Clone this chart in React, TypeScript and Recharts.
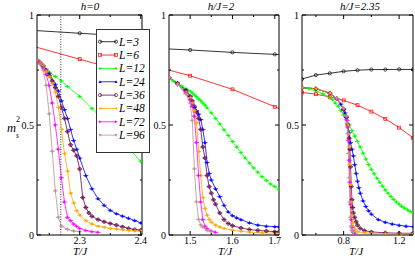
import React from 'react';
import { LineChart, Line, XAxis, YAxis, ReferenceLine } from 'recharts';

// ---------- legend / style categories ----------
const seriesNames = ['L=3', 'L=6', 'L=12', 'L=24', 'L=36', 'L=48', 'L=72', 'L=96'];
const seriesColors = ['#000000', '#ff0000', '#00ff00', '#0000ff', '#670748', '#ffa500', '#ff00ff', '#bc8f8f'];
const seriesShapes = ['circle', 'square', 'diamond', 'up', 'circle', 'left', 'right', 'down'];

const panelTitles = ['h=0', 'h/J=2', 'h/J=2.35'];
const xAxisTitle = 'T/J';

// ---------- panel 1 : h = 0 ----------
const h0_L3: [number, number][] = [[2.2, 0.934], [2.3, 0.917], [2.4, 0.9], [2.5, 0.883]];
const h0_L6: [number, number][] = [[2.2, 0.876], [2.3, 0.799], [2.4, 0.722], [2.5, 0.645]];
const h0_L12: [number, number][] = [[2.23, 0.795], [2.24, 0.765], [2.25, 0.74], [2.26, 0.72], [2.27, 0.7], [2.28, 0.675], [2.3, 0.63], [2.32, 0.575], [2.34, 0.52], [2.36, 0.46], [2.38, 0.395], [2.4, 0.335], [2.42, 0.28]];
const h0_L24: [number, number][] = [[2.23, 0.795], [2.24, 0.77], [2.25, 0.735], [2.26, 0.685], [2.265, 0.655], [2.27, 0.61], [2.275, 0.57], [2.28, 0.53], [2.285, 0.48], [2.29, 0.43], [2.295, 0.39], [2.3, 0.35], [2.31, 0.27], [2.32, 0.21], [2.33, 0.165], [2.34, 0.135], [2.35, 0.112], [2.36, 0.097], [2.37, 0.086], [2.38, 0.076], [2.39, 0.066], [2.4, 0.055], [2.41, 0.05]];
const h0_L36: [number, number][] = [[2.23, 0.795], [2.235, 0.785], [2.24, 0.77], [2.245, 0.75], [2.25, 0.725], [2.255, 0.7], [2.26, 0.67], [2.265, 0.63], [2.27, 0.58], [2.275, 0.53], [2.28, 0.47], [2.285, 0.41], [2.29, 0.385], [2.295, 0.36], [2.3, 0.3], [2.305, 0.17], [2.31, 0.125], [2.315, 0.1], [2.32, 0.085], [2.33, 0.07], [2.34, 0.06], [2.35, 0.052], [2.36, 0.045], [2.37, 0.037], [2.38, 0.03], [2.39, 0.025], [2.4, 0.022], [2.41, 0.02]];
const h0_L48: [number, number][] = [[2.23, 0.795], [2.235, 0.785], [2.24, 0.77], [2.245, 0.745], [2.25, 0.72], [2.255, 0.69], [2.26, 0.65], [2.265, 0.58], [2.27, 0.48], [2.275, 0.37], [2.28, 0.29], [2.285, 0.19], [2.29, 0.145], [2.295, 0.11], [2.3, 0.09], [2.31, 0.065], [2.32, 0.05], [2.33, 0.04], [2.34, 0.035], [2.35, 0.03], [2.36, 0.027], [2.37, 0.024], [2.38, 0.021], [2.39, 0.019], [2.4, 0.017], [2.41, 0.016]];
const h0_L72: [number, number][] = [[2.23, 0.795], [2.235, 0.78], [2.24, 0.76], [2.245, 0.73], [2.25, 0.68], [2.255, 0.6], [2.26, 0.5], [2.265, 0.39], [2.27, 0.26], [2.275, 0.15], [2.28, 0.08], [2.285, 0.065], [2.29, 0.05], [2.295, 0.04], [2.3, 0.03], [2.31, 0.02], [2.32, 0.015], [2.33, 0.012]];
const h0_L96: [number, number][] = [[2.23, 0.795], [2.235, 0.775], [2.24, 0.75], [2.245, 0.68], [2.25, 0.55], [2.255, 0.38], [2.26, 0.2], [2.265, 0.08], [2.27, 0.04], [2.28, 0.025], [2.29, 0.018], [2.3, 0.015]];

// ---------- panel 2 : h/J = 2 ----------
const h2_L3: [number, number][] = [[1.4, 0.85], [1.5, 0.841], [1.6, 0.83], [1.7, 0.821], [1.8, 0.81]];
const h2_L6: [number, number][] = [[1.4, 0.775], [1.5, 0.724], [1.6, 0.662], [1.7, 0.583], [1.8, 0.5]];
const h2_L12: [number, number][] = [[1.45, 0.715], [1.46, 0.7], [1.47, 0.69], [1.48, 0.677], [1.49, 0.665], [1.5, 0.653], [1.505, 0.645], [1.51, 0.636], [1.515, 0.628], [1.52, 0.618], [1.525, 0.61], [1.53, 0.6], [1.535, 0.59], [1.54, 0.578], [1.55, 0.555], [1.56, 0.53], [1.57, 0.505], [1.58, 0.478], [1.59, 0.452], [1.6, 0.425], [1.61, 0.4], [1.62, 0.375], [1.63, 0.35], [1.64, 0.327], [1.65, 0.305], [1.66, 0.285], [1.67, 0.265], [1.68, 0.248], [1.69, 0.232], [1.7, 0.22], [1.71, 0.205]];
const h2_L24: [number, number][] = [[1.45, 0.715], [1.47, 0.69], [1.49, 0.66], [1.5, 0.63], [1.505, 0.6], [1.51, 0.58], [1.515, 0.565], [1.52, 0.55], [1.525, 0.525], [1.53, 0.48], [1.535, 0.42], [1.54, 0.33], [1.545, 0.28], [1.55, 0.25], [1.56, 0.21], [1.57, 0.175], [1.58, 0.135], [1.59, 0.105], [1.6, 0.088], [1.61, 0.078], [1.62, 0.07], [1.64, 0.055], [1.66, 0.045], [1.68, 0.04], [1.7, 0.038], [1.71, 0.037]];
const h2_L36: [number, number][] = [[1.45, 0.715], [1.47, 0.69], [1.49, 0.655], [1.5, 0.63], [1.505, 0.61], [1.51, 0.585], [1.515, 0.56], [1.52, 0.53], [1.525, 0.48], [1.53, 0.4], [1.535, 0.35], [1.54, 0.27], [1.545, 0.22], [1.55, 0.19], [1.555, 0.16], [1.56, 0.14], [1.57, 0.1], [1.58, 0.07], [1.59, 0.052], [1.6, 0.042], [1.62, 0.032], [1.64, 0.025], [1.66, 0.021], [1.68, 0.018], [1.7, 0.015], [1.71, 0.014]];
const h2_L48: [number, number][] = [[1.45, 0.715], [1.47, 0.685], [1.49, 0.65], [1.5, 0.625], [1.505, 0.6], [1.51, 0.565], [1.515, 0.51], [1.52, 0.38], [1.525, 0.27], [1.53, 0.17], [1.535, 0.12], [1.54, 0.09], [1.545, 0.07], [1.55, 0.058], [1.56, 0.045], [1.57, 0.036], [1.58, 0.03], [1.6, 0.022], [1.62, 0.017], [1.64, 0.013], [1.67, 0.01], [1.71, 0.008]];
const h2_L72: [number, number][] = [[1.45, 0.715], [1.47, 0.685], [1.49, 0.645], [1.5, 0.615], [1.505, 0.585], [1.51, 0.54], [1.515, 0.42], [1.52, 0.27], [1.525, 0.15], [1.53, 0.07], [1.535, 0.04], [1.54, 0.03], [1.55, 0.018], [1.56, 0.012]];
const h2_L96: [number, number][] = [[1.45, 0.715], [1.47, 0.685], [1.49, 0.64], [1.5, 0.6], [1.505, 0.52], [1.51, 0.3], [1.515, 0.15], [1.52, 0.07], [1.525, 0.045], [1.53, 0.035], [1.54, 0.02], [1.55, 0.015]];

// ---------- panel 3 : h/J = 2.35 ----------
const h235_L3: [number, number][] = [[0.5, 0.709], [0.6, 0.727], [0.7, 0.735], [0.8, 0.744], [0.9, 0.749], [1.0, 0.752], [1.1, 0.752], [1.2, 0.753], [1.3, 0.752]];
const h235_L6: [number, number][] = [[0.5, 0.648], [0.6, 0.64], [0.7, 0.628], [0.8, 0.612], [0.9, 0.59], [1.0, 0.561], [1.1, 0.528], [1.2, 0.488], [1.3, 0.442]];
const h235_L12: [number, number][] = [[0.5, 0.67], [0.55, 0.665], [0.6, 0.655], [0.65, 0.642], [0.7, 0.625], [0.72, 0.615], [0.74, 0.6], [0.76, 0.585], [0.78, 0.565], [0.8, 0.545], [0.82, 0.525], [0.84, 0.5], [0.86, 0.475], [0.88, 0.45], [0.9, 0.425], [0.92, 0.4], [0.94, 0.372], [0.96, 0.345], [0.98, 0.32], [1.0, 0.298], [1.02, 0.278], [1.04, 0.258], [1.06, 0.24], [1.08, 0.222], [1.1, 0.205], [1.12, 0.19], [1.14, 0.175], [1.16, 0.162], [1.18, 0.15], [1.2, 0.14], [1.22, 0.13], [1.24, 0.122], [1.26, 0.114], [1.28, 0.107], [1.3, 0.1]];
const h235_L24: [number, number][] = [[0.5, 0.67], [0.6, 0.665], [0.7, 0.645], [0.75, 0.62], [0.78, 0.595], [0.8, 0.57], [0.81, 0.555], [0.82, 0.535], [0.83, 0.505], [0.84, 0.465], [0.85, 0.42], [0.86, 0.39], [0.87, 0.36], [0.88, 0.32], [0.89, 0.28], [0.9, 0.245], [0.91, 0.215], [0.92, 0.19], [0.94, 0.155], [0.96, 0.13], [0.98, 0.11], [1.0, 0.095], [1.05, 0.07], [1.1, 0.058], [1.15, 0.05], [1.2, 0.044], [1.25, 0.04], [1.3, 0.038]];
const h235_L36: [number, number][] = [[0.5, 0.67], [0.6, 0.665], [0.7, 0.645], [0.75, 0.62], [0.8, 0.57], [0.82, 0.535], [0.83, 0.5], [0.84, 0.44], [0.845, 0.39], [0.85, 0.31], [0.855, 0.22], [0.86, 0.16], [0.865, 0.125], [0.87, 0.1], [0.88, 0.08], [0.89, 0.06], [0.9, 0.045], [0.92, 0.03], [0.95, 0.02], [1.0, 0.014], [1.1, 0.01], [1.2, 0.008], [1.3, 0.008]];
const h235_L48: [number, number][] = [[0.5, 0.67], [0.6, 0.665], [0.7, 0.645], [0.75, 0.62], [0.8, 0.575], [0.82, 0.54], [0.83, 0.5], [0.835, 0.46], [0.84, 0.4], [0.845, 0.32], [0.85, 0.23], [0.855, 0.15], [0.86, 0.09], [0.865, 0.055], [0.87, 0.038], [0.88, 0.025], [0.9, 0.015], [0.95, 0.01], [1.0, 0.008], [1.1, 0.006], [1.2, 0.005], [1.3, 0.004]];
const h235_L72: [number, number][] = [[0.75, 0.62], [0.8, 0.575], [0.82, 0.54], [0.825, 0.52], [0.83, 0.49], [0.835, 0.43], [0.84, 0.34], [0.845, 0.24], [0.85, 0.14], [0.855, 0.07], [0.86, 0.035], [0.865, 0.02], [0.87, 0.012], [0.88, 0.008]];
const h235_L96: [number, number][] = [[0.75, 0.62], [0.8, 0.575], [0.82, 0.54], [0.825, 0.51], [0.83, 0.46], [0.835, 0.37], [0.84, 0.26], [0.845, 0.15], [0.85, 0.08], [0.855, 0.04], [0.86, 0.022], [0.87, 0.012]];

// ---------- axis ticks ----------
const p1Domain: [number, number] = [2.23, 2.402];
const p1XMajor = [2.3, 2.4];
const p1XMinor = [2.25, 2.35];
const p1Critical = 2.269;
const p2Domain: [number, number] = [1.45, 1.71];
const p2XMajor = [1.5, 1.6, 1.7];
const p2XMinor = [1.55, 1.65];
const p3Domain: [number, number] = [0.5, 1.3];
const p3XMajor = [0.8, 1.2];
const p3XMinor = [0.6, 1.0];
const yMajor = [0, 0.5, 1];
const yMinor = [0.25, 0.75];

const SERIF = '"Liberation Serif", "DejaVu Serif", serif';

function isIn(v: number, arr: number[]) {
  return arr.some((a) => Math.abs(a - v) < 1e-9);
}

function markerShape(shape: string, color: string, cx: number, cy: number, withCap: boolean, key?: any) {
  const s = 1.5;
  let m: any;
  switch (shape) {
    case 'circle':
      m = <circle cx={cx} cy={cy} r={1.6} fill="none" stroke={color} strokeWidth={0.7} />;
      break;
    case 'square':
      m = <rect x={cx - 1.5} y={cy - 1.5} width={3} height={3} fill="none" stroke={color} strokeWidth={0.7} />;
      break;
    case 'diamond':
      m = <polygon points={`${cx},${cy - s} ${cx + s},${cy} ${cx},${cy + s} ${cx - s},${cy}`} fill={color} stroke="none" />;
      break;
    case 'up':
      m = <polygon points={`${cx},${cy - s} ${cx + s},${cy + s * 0.8} ${cx - s},${cy + s * 0.8}`} fill={color} stroke="none" />;
      break;
    case 'down':
      m = <polygon points={`${cx},${cy + s} ${cx + s},${cy - s * 0.8} ${cx - s},${cy - s * 0.8}`} fill={color} stroke="none" />;
      break;
    case 'left':
      m = <polygon points={`${cx - s},${cy} ${cx + s * 0.8},${cy - s} ${cx + s * 0.8},${cy + s}`} fill={color} stroke="none" />;
      break;
    default:
      m = <polygon points={`${cx + s},${cy} ${cx - s * 0.8},${cy - s} ${cx - s * 0.8},${cy + s}`} fill={color} stroke="none" />;
  }
  return (
    <g key={key}>
      {withCap && <line x1={cx - 2.5} x2={cx + 2.5} y1={cy} y2={cy} stroke={color} strokeWidth={0.8} />}
      {withCap && <line x1={cx} x2={cx} y1={cy - 2} y2={cy + 2} stroke={color} strokeWidth={0.6} />}
      {m}
    </g>
  );
}

function makeDot(i: number) {
  return (p: any) => {
    const { cx, cy, index } = p;
    if (cx == null || cy == null || isNaN(cx) || isNaN(cy)) return <g key={`d${index}`} />;
    return markerShape(seriesShapes[i], seriesColors[i], cx, cy, i >= 2, `d${index}`);
  };
}

function makeTick(orient: string, majors: number[], labels: boolean) {
  return (p: any) => {
    const { x, y, payload } = p;
    const v = payload.value;
    const major = isIn(v, majors);
    const len = major ? 4 : 2;
    const txt = String(v);
    if (orient === 'bottom') {
      return (
        <g>
          <line x1={x} x2={x} y1={y} y2={y - len} stroke="#000" strokeWidth={1} />
          {labels && major && (
            <text x={x} y={y + 8.5} textAnchor="middle" fontFamily={SERIF} fontSize={10} fill="#000">{txt}</text>
          )}
        </g>
      );
    }
    if (orient === 'top') {
      return <line x1={x} x2={x} y1={y} y2={y + len} stroke="#000" strokeWidth={1} />;
    }
    if (orient === 'left') {
      return (
        <g>
          <line x1={x} x2={x + len} y1={y} y2={y} stroke="#000" strokeWidth={1} />
          {labels && major && (
            <text x={x - 3} y={y + 3.5} textAnchor="end" fontFamily={SERIF} fontSize={10} fill="#000">{txt}</text>
          )}
        </g>
      );
    }
    return <line x1={x} x2={x - len} y1={y} y2={y} stroke="#000" strokeWidth={1} />;
  };
}

type PanelProps = {
  left: number;
  plotW: number;
  domain: [number, number];
  xMajor: number[];
  xMinor: number[];
  series: [number, number][][];
  refX?: number;
};

function Panel({ left, plotW, domain, xMajor, xMinor, series, refX }: PanelProps) {
  const width = 30 + plotW + 1;
  const xTicks = [...xMajor, ...xMinor].sort((a, b) => a - b);
  const yTicks = [...yMajor, ...yMinor].sort((a, b) => a - b);
  const axisLine = { stroke: '#000', strokeWidth: 1 };
  return (
    <div style={{ position: 'absolute', left, top: 0 }}>
      <LineChart width={width} height={260} margin={{ top: 14, right: 0, bottom: 0, left: 0 }}>
        <XAxis xAxisId="b" type="number" dataKey="t" domain={domain} allowDataOverflow ticks={xTicks} interval={0}
          orientation="bottom" height={25} tickLine={false} tickSize={0} tickMargin={0} axisLine={axisLine}
          tick={makeTick('bottom', xMajor, true)} />
        <XAxis xAxisId="t" type="number" dataKey="t" domain={domain} allowDataOverflow ticks={xTicks} interval={0}
          orientation="top" height={1} tickLine={false} tickSize={0} tickMargin={0} axisLine={axisLine}
          tick={makeTick('top', xMajor, false)} />
        <YAxis yAxisId="l" type="number" domain={[0, 1]} allowDataOverflow ticks={yTicks} interval={0}
          orientation="left" width={30} tickLine={false} tickSize={0} tickMargin={0} axisLine={axisLine}
          tick={makeTick('left', yMajor, true)} />
        <YAxis yAxisId="r" type="number" domain={[0, 1]} allowDataOverflow ticks={yTicks} interval={0}
          orientation="right" width={1} tickLine={false} tickSize={0} tickMargin={0} axisLine={axisLine}
          tick={makeTick('right', yMajor, false)} />
        {refX != null && (
          <ReferenceLine xAxisId="b" yAxisId="l" x={refX} stroke="#000" strokeWidth={0.8} strokeDasharray="1 1.5" />
        )}
        {series.map((d, i) => (
          <Line key={seriesNames[i]} xAxisId="b" yAxisId="l" data={d.map(([t, m]) => ({ t, m }))} dataKey="m"
            type="linear" stroke={seriesColors[i]} strokeWidth={0.8} dot={makeDot(i)} activeDot={false}
            isAnimationActive={false} />
        ))}
      </LineChart>
    </div>
  );
}

function LegendBox() {
  const x0 = 96, y0 = 29, w = 53, h = 123;
  return (
    <svg style={{ position: 'absolute', left: x0, top: y0 }} width={w + 1} height={h + 1}>
      <rect x={0.5} y={0.5} width={w} height={h} fill="#fff" stroke="#333" strokeWidth={1} />
      {seriesNames.map((n, i) => {
        const cy = 12.7 + i * 13.35;
        return (
          <g key={n}>
            <line x1={4} x2={20} y1={cy} y2={cy} stroke={seriesColors[i]} strokeWidth={0.8} />
            {markerShape(seriesShapes[i], seriesColors[i], 4, cy, false)}
            {markerShape(seriesShapes[i], seriesColors[i], 20, cy, false)}
            <text x={23} y={cy + 4} fontFamily={SERIF} fontStyle="italic" fontSize={11.5} fill="#000">{n}</text>
          </g>
        );
      })}
    </svg>
  );
}

function Labels() {
  const titleX = [90, 221, 360];
  const xlabX = [80, 225, 356];
  return (
    <svg style={{ position: 'absolute', left: 0, top: 0, pointerEvents: 'none' }} width={415} height={260}>
      {panelTitles.map((t, i) => (
        <text key={t} x={titleX[i]} y={9.5} textAnchor="middle" fontFamily={SERIF} fontStyle="italic" fontSize={11} fill="#000">{t}</text>
      ))}
      {xlabX.map((x, i) => (
        <text key={i} x={x} y={255} textAnchor="middle" fontFamily={SERIF} fontStyle="italic" fontSize={11} fill="#000">{xAxisTitle}</text>
      ))}
      <text x={7} y={132} fontFamily={SERIF} fontStyle="italic" fontSize={12.5} fill="#000">m</text>
      <text x={16} y={137.5} fontFamily={SERIF} fontStyle="italic" fontSize={7.5} fill="#000">s</text>
      <text x={16} y={122} fontFamily={SERIF} fontSize={8} fill="#000">2</text>
    </svg>
  );
}

export default function App() {
  return (
    <div style={{ position: 'absolute', left: 0, top: 0, width: 415, height: 260, background: '#fff', overflow: 'hidden' }}>
      <style>{'.recharts-surface{overflow:visible}'}</style>
      <Panel left={7} plotW={105} domain={p1Domain} xMajor={p1XMajor} xMinor={p1XMinor}
        series={[h0_L3, h0_L6, h0_L12, h0_L24, h0_L36, h0_L48, h0_L72, h0_L96]} refX={p1Critical} />
      <Panel left={139} plotW={110} domain={p2Domain} xMajor={p2XMajor} xMinor={p2XMinor}
        series={[h2_L3, h2_L6, h2_L12, h2_L24, h2_L36, h2_L48, h2_L72, h2_L96]} />
      <Panel left={272} plotW={111} domain={p3Domain} xMajor={p3XMajor} xMinor={p3XMinor}
        series={[h235_L3, h235_L6, h235_L12, h235_L24, h235_L36, h235_L48, h235_L72, h235_L96]} />
      <Labels />
      <LegendBox />
    </div>
  );
}
